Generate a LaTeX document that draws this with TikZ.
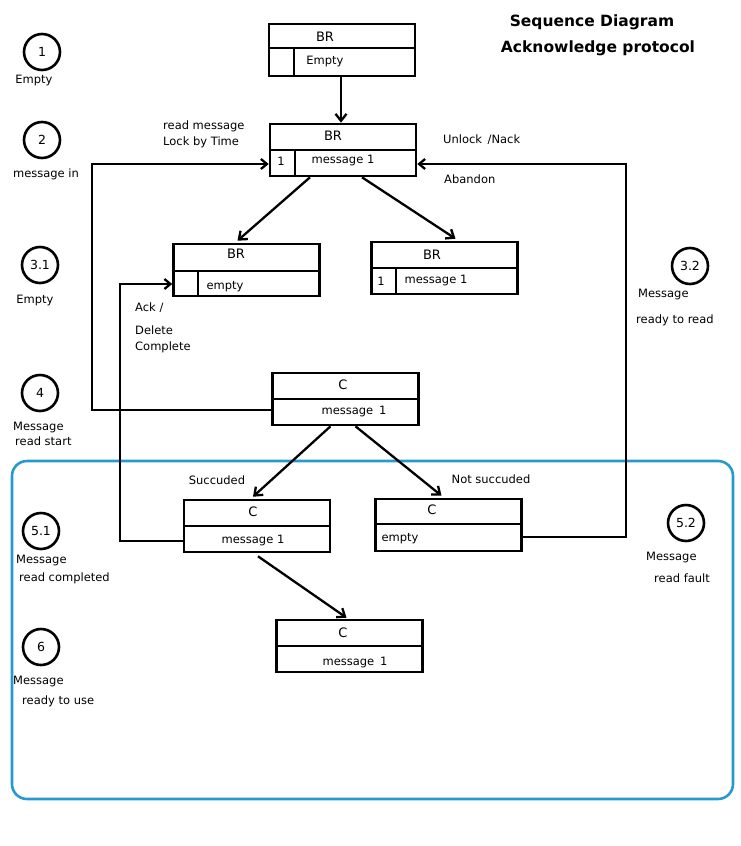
\documentclass[tikz,border=0pt]{standalone}
\usepackage{fontspec}
\setmainfont{DejaVu Sans}
\usetikzlibrary{arrows.meta,calc}
\definecolor{frameblue}{RGB}{38,154,206}
\begin{document}
\begin{tikzpicture}[x=1pt,y=-1pt,
  every node/.style={font=\fontsize{11.5}{13}\selectfont, inner sep=0pt},
  state/.style={draw, line width=2.6pt, minimum width=146pt, minimum height=52pt},
  head/.style={font=\fontsize{13}{15}\selectfont},
  rule/.style={line width=2.6pt},
  arr/.style={line width=2.3pt, -{Straight Barb[length=7pt,width=11pt,line width=2.3pt]}},
  link/.style={line width=2.6pt, -{Straight Barb[length=6pt,width=10pt,line width=2.3pt]}},
  step circ/.style={draw, circle, line width=2.6pt, minimum size=36pt, font=\fontsize{12.5}{14}\selectfont},
  lbl/.style={anchor=west},
  title/.style={font=\fontsize{15.5}{18}\selectfont\bfseries}
]
\useasboundingbox (0,0) rectangle (740,846);
\fill[white] (0,0) rectangle (740,846);

% frame around the read phase
\draw[frameblue, line width=2.6pt, rounded corners=15pt] (12,461) rectangle (733,799);

% title
\node[title] (t1) at (592,22) {Sequence Diagram};
\node[title] (t2) at (598,48) {Acknowledge protocol};

% ---- state boxes ----
% 1: broker, empty
\node[state] (b1) at (342,50) {};
\draw[rule] (269,48) -- (415,48);
\draw[rule] (294,48) -- (294,76);
\node[head] (b1h) at (325,37) {BR};
\node (b1m) at (325,62) {Empty};

% 2: broker, message in, locked
\node[state] (b2) at (343,150) {};
\draw[rule] (270,150) -- (416,150);
\draw[rule] (295,150) -- (295,176);
\node[head] (b2h) at (333,136) {BR};
\node (b2n) at (281,161) {1};
\node (b2m) at (343,161) {message 1};

% 3.1: broker, empty after ack
\node[state] (b3) at (246.5,270) {};
\draw[rule] (173,271) -- (320,271);
\draw[rule] (198,271) -- (198,297);
\node[head] (b3h) at (236,254) {BR};
\node (b3m) at (225,287) {empty};

% 3.2: broker, message ready again
\node[state] (b4) at (444.5,268) {};
\draw[rule] (371,268) -- (518,268);
\draw[rule] (396,268) -- (396,294);
\node[head] (b4h) at (432,255) {BR};
\node (b4n) at (381,281) {1};
\node (b4m) at (436,281) {message 1};

% 4: client reading
\node[state] (b5) at (345.5,399) {};
\draw[rule] (272,399) -- (419,399);
\node[head] (b5h) at (343,385) {C};
\node (b5m) at (354,411) {message\enspace 1};

% 5.1: client, read completed
\node[state] (b6) at (257,526) {};
\draw[rule] (183,526) -- (331,526);
\node[head] (b6h) at (253,512) {C};
\node (b6m) at (253,540) {message 1};

% 5.2: client, read fault
\node[state] (b7) at (448.5,525) {};
\draw[rule] (375,524) -- (522,524);
\node[head] (b7h) at (432,510) {C};
\node (b7m) at (400,539) {empty};

% 6: client, message ready to use
\node[state] (b8) at (349.5,646) {};
\draw[rule] (276,646) -- (423,646);
\node[head] (b8h) at (343,633) {C};
\node (b8m) at (355,662) {message\enspace 1};

% ---- transitions ----
\draw[arr] ($(b1.south)+(-1,0)$) -- ($(b2.north)+(-2,0)$);
\draw[arr] ($(b2.south)+(-33,0)$) -- ($(b3.north)+(-9,-2)$);
\draw[arr] ($(b2.south)+(19,0)$) -- ($(b4.north)+(11,-2)$);
\draw[arr] ($(b5.south)+(-15,0)$) -- ($(b6.north)+(-4,-2)$);
\draw[arr] ($(b5.south)+(10,0)$) -- ($(b7.north)+(-7,-2)$);
\draw[arr] ($(b6.south)+(1,3)$) -- ($(b8.north)+(-3,-1)$);

% return paths
\coordinate (c4l) at (92,410);
\coordinate (c51) at (120,541);
\coordinate (c52) at (626,537);
\draw[link] ($(b5.west)+(0,11)$) -- (c4l) |- ($(b2.west)+(0,14)$);
\draw[link] ($(b6.west)+(0,15)$) -- (c51) |- ($(b3.west)+(0,14)$);
\draw[link] ($(b7.east)+(0,12)$) -- (c52) |- ($(b2.east)+(0,14)$);

% transition labels
\node[lbl] (l1) at (163,126) {read message};
\node[lbl] (l2) at (163,142) {Lock by Time};
\node[lbl] (l3) at (443,140) {Unlock \,/Nack};
\node[lbl] (l4) at (444,179) {Abandon};
\node[lbl] (l5) at (135,308) {Ack /};
\node[lbl] (l6) at (135,330) {Delete};
\node[lbl] (l7) at (135,347) {Complete};
\node (l8) at (217,480) {Succuded};
\node (l9) at (491,479) {Not succuded};

% ---- step markers ----
\node[step circ] (s1) at (42,52) {1};
\node (s1t) at (34,81) {Empty};
\node[step circ] (s2) at (42,140) {2};
\node (s2t) at (46,174) {message in};
\node[step circ] (s31) at (40,265) {3.1};
\node (s31t) at (35,300) {Empty};
\node[step circ] (s4) at (40,393) {4};
\node[lbl] (s4a) at (13,427) {Message};
\node[lbl] (s4b) at (15,441) {read start};
\node[step circ] (s51) at (41,531) {5.1};
\node[lbl] (s51a) at (16,560) {Message};
\node[lbl] (s51b) at (19,578) {read completed};
\node[step circ] (s6) at (41,647) {6};
\node[lbl] (s6a) at (13,681) {Message};
\node[lbl] (s6b) at (22,701) {ready to use};
\node[step circ] (s32) at (690,266) {3.2};
\node[lbl] (s32a) at (638,294) {Message};
\node[lbl] (s32b) at (636,320) {ready to read};
\node[step circ] (s52) at (686,523) {5.2};
\node[lbl] (s52a) at (646,557) {Message};
\node[lbl] (s52b) at (654,578) {read fault};
\end{tikzpicture}
\end{document}
